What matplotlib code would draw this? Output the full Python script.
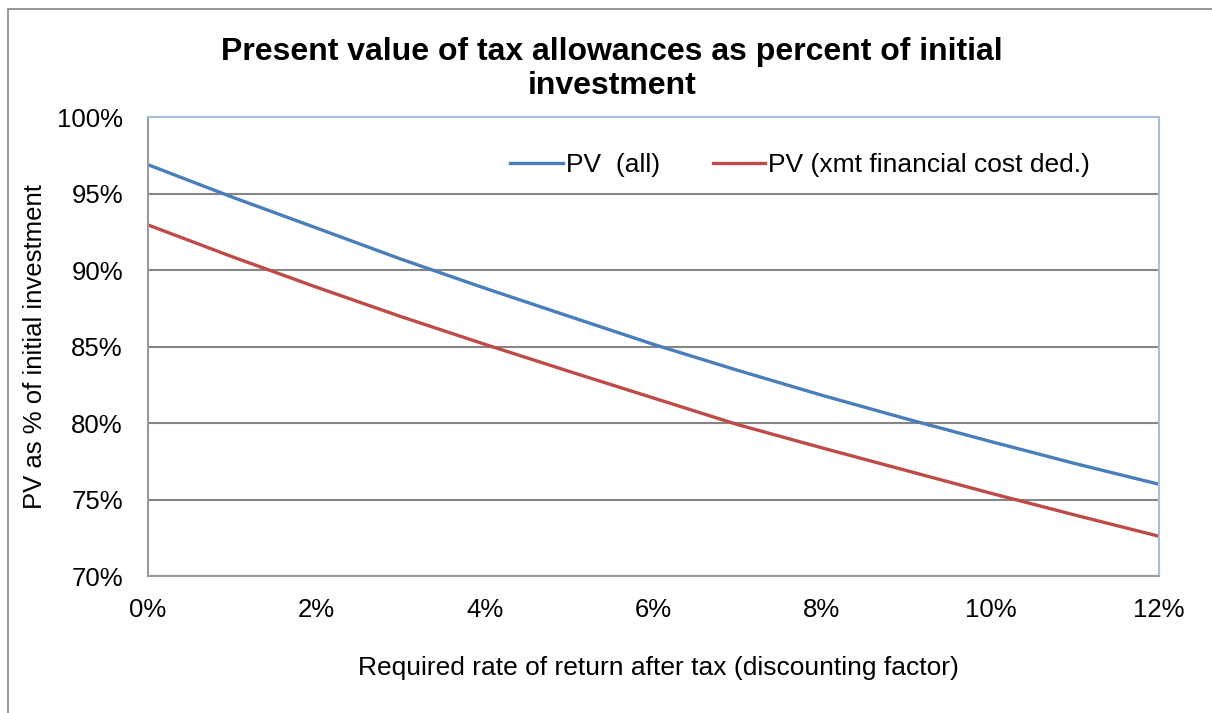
import numpy as np
import matplotlib.pyplot as plt
from matplotlib.patches import Rectangle
from matplotlib.ticker import FuncFormatter

plt.rcParams['font.family'] = ['Liberation Sans', 'DejaVu Sans']

# rate of return (%) and present value (% of investment)
rate = [0, 1, 2, 3, 4, 5, 6, 7, 8, 9, 10, 11, 12]
pv_all = [96.9, 94.78, 92.76, 90.73, 88.82, 86.98, 85.15, 83.45, 81.82, 80.28, 78.8, 77.36, 76.0]
pv_xmt = [92.96, 90.88, 88.89, 86.97, 85.15, 83.38, 81.64, 79.9, 78.38, 76.9, 75.42, 73.99, 72.6]

x_ticks = [0, 2, 4, 6, 8, 10, 12]
y_ticks = [70, 75, 80, 85, 90, 95, 100]

fig = plt.figure(figsize=(12.12, 7.13), dpi=100)
ax = fig.add_axes([148/1212, 1-576/713, (1159-148)/1212, (576-117.3)/713])

# outer chart border
fig.patches.append(Rectangle((8/1212, -0.1), 1.2, 1.1-9/713, transform=fig.transFigure,
                             fill=False, edgecolor='#868686', lw=1.2))

ax.plot(rate, pv_all, color='#4A7EBB', lw=2.4, label='PV  (all)')
ax.plot(rate, pv_xmt, color='#BE4B48', lw=2.4, label='PV (xmt financial cost ded.)')

ax.set_xlim(0, 12)
ax.set_ylim(70, 100)
ax.set_xticks(x_ticks)
ax.set_yticks(y_ticks)
ax.xaxis.set_major_formatter(FuncFormatter(lambda v, p: f'{v:.0f}%'))
ax.yaxis.set_major_formatter(FuncFormatter(lambda v, p: f'{v:.0f}%'))
ax.tick_params(length=0, labelsize=18.5)
ax.tick_params(axis='y', pad=18)
ax.tick_params(axis='x', pad=16)

ax.grid(axis='y', color='#868686', lw=1.5)
ax.set_axisbelow(True)
for s in ['left', 'bottom']:
    ax.spines[s].set_color('#9a9a9a')
    ax.spines[s].set_linewidth(1.5)
for s in ['top', 'right']:
    ax.spines[s].set_color('#A7BFDE')
    ax.spines[s].set_linewidth(1.5)

ax.set_xlabel('Required rate of return after tax (discounting factor)', fontsize=19)
ax.xaxis.set_label_coords((658-148)/1011, -0.175)
ax.set_ylabel('PV as % of initial investment', fontsize=18.5, labelpad=7)

fig.text(612/1212, 1-69/713,
         'Present value of tax allowances as percent of initial\ninvestment',
         ha='center', va='center', fontsize=23, fontweight='bold', linespacing=1.2)

ax.legend(loc='center', bbox_to_anchor=((800-148)/1011, (576-165)/458.7), ncol=2,
          frameon=False, fontsize=19, handlelength=2.0, handletextpad=0.1,
          columnspacing=2.0, borderaxespad=0)

fig.savefig('out.png', dpi=100)
